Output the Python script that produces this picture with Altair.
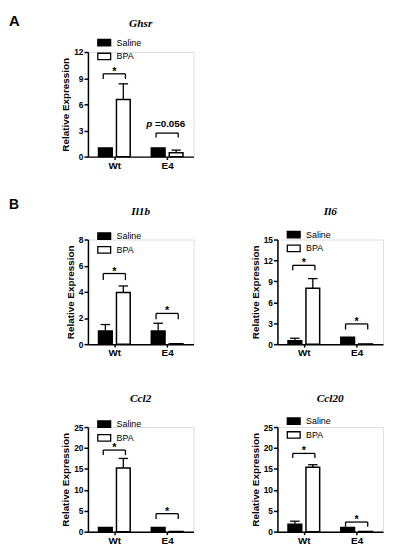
import altair as alt
import pandas as pd

# ---------------- data ----------------
groups = ["Wt", "E4"]
treatments = ["Saline", "BPA"]
genes = ["Ghsr", "Il1b", "Il6", "Ccl2", "Ccl20"]
y_max = [12, 8, 15, 25, 25]
y_step = [3, 2, 3, 5, 5]

# mean and error per gene, in the order [Wt, E4]
saline_mean = [[1.0, 1.0], [1.0, 1.0], [0.5, 1.0], [1.0, 1.0], [1.8, 1.0]]
saline_err = [[0.0, 0.0], [0.5, 0.6], [0.35, 0.0], [0.0, 0.0], [0.7, 0.0]]
bpa_mean = [[6.55, 0.45], [3.95, 0.03], [8.0, 0.03], [15.2, 0.05], [15.4, 0.05]]
bpa_err = [[1.8, 0.3], [0.5, 0.0], [1.4, 0.0], [2.3, 0.0], [0.6, 0.0]]

# significance brackets (top of bracket, bottom of its feet) and labels
bracket_top = [[9.5, 2.7], [5.4, 2.35], [11.3, 2.9], [19.5, 4.3], [18.7, 2.3]]
bracket_foot = [[8.9, 2.2], [4.9, 1.9], [10.6, 2.1], [18.3, 3.0], [17.6, 1.2]]
bracket_text = [["*", "p =0.056"], ["*", "*"], ["*", "*"], ["*", "*"], ["*", "*"]]
panel_letters = {"Ghsr": "A", "Il1b": "B"}

# ---------------- style / layout ----------------
W, H = 107, 106
BAR_OUT, BAR_IN = 0.30, 0.04
CAP = 0.09
BR = 0.21
FONT = "Liberation Sans"
SERIF = "Liberation Serif"
LEGEND_Y = [-17, -11, -12.5, -10.5, -13.5]


def build_panel(i):
    gene = genes[i]
    ymax, ystep = y_max[i], y_step[i]
    means = [saline_mean[i], bpa_mean[i]]
    errs = [saline_err[i], bpa_err[i]]

    bar_rows, rule_rows, star_rows, pval_rows = [], [], [], []
    for gi, grp in enumerate(groups):
        c = gi + 0.5
        for ti, tr in enumerate(treatments):
            sign = -1 if ti == 0 else 1
            xa, xb = c + sign * BAR_IN, c + sign * BAR_OUT
            xm = (xa + xb) / 2
            m, e = means[ti][gi], errs[ti][gi]
            bar_rows.append({"x": min(xa, xb), "x2": max(xa, xb), "y": 0.0, "y2": m,
                             "treatment": tr})
            if e > 0:
                rule_rows.append({"x": xm, "x2": xm, "y": m, "y2": m + e})
                rule_rows.append({"x": xm - CAP, "x2": xm + CAP, "y": m + e, "y2": m + e})
        top, foot = bracket_top[i][gi], bracket_foot[i][gi]
        xl, xr = c - BR, c + BR
        rule_rows += [
            {"x": xl, "x2": xr, "y": top, "y2": top},
            {"x": xl, "x2": xl, "y": foot, "y2": top},
            {"x": xr, "x2": xr, "y": foot, "y2": top},
        ]
        lab = bracket_text[i][gi]
        if lab == "*":
            star_rows.append({"x": c, "y": top})
        else:
            p, rest = lab.split(" ", 1)
            pval_rows.append({"x": c, "y": top, "p": p, "rest": rest})

    xscale = alt.Scale(domain=[0, len(groups)], nice=False, zero=False)
    yscale = alt.Scale(domain=[0, ymax], nice=False)
    xaxis = alt.Axis(values=[k + 0.5 for k in range(len(groups))],
                     labelExpr=f"{groups}[floor(datum.value)]",
                     title=None, grid=False, labelAngle=0,
                     domainColor="black", domainWidth=1.5,
                     tickColor="black", tickWidth=1.5, tickSize=3,
                     labelFont=FONT, labelFontSize=10, labelFontWeight="bold",
                     labelColor="black", labelPadding=1)
    yaxis = alt.Axis(values=list(range(0, ymax + 1, ystep)),
                     title="Relative Expression", grid=False,
                     domainColor="black", domainWidth=1.5,
                     tickColor="black", tickWidth=1.5, tickSize=4,
                     labelFont=FONT, labelFontSize=8.5, labelFontWeight="bold",
                     labelColor="black", labelPadding=1,
                     titleFont=FONT, titleFontSize=10, titleFontWeight="bold",
                     titleColor="black", titlePadding=3)

    def X(f="x"):
        return alt.X(f"{f}:Q", scale=xscale, axis=xaxis)

    def Y(f="y"):
        return alt.Y(f"{f}:Q", scale=yscale, axis=yaxis)

    bars = alt.Chart(pd.DataFrame(bar_rows)).mark_rect(
        stroke="black", strokeWidth=1.5
    ).encode(
        x=X(), x2="x2:Q", y=Y(), y2="y2:Q",
        fill=alt.Fill("treatment:N",
                      scale=alt.Scale(domain=treatments, range=["black", "white"]),
                      legend=alt.Legend(orient="none", legendX=9, legendY=LEGEND_Y[i],
                                        title=None, direction="vertical",
                                        symbolType="M-1,-0.5H1V0.5H-1Z",
                                        symbolSize=169, symbolStrokeColor="black",
                                        symbolStrokeWidth=1.3,
                                        labelFont=FONT, labelFontSize=9,
                                        labelColor="black", labelOffset=5,
                                        rowPadding=-2, padding=0)),
    )
    rules = alt.Chart(pd.DataFrame(rule_rows)).mark_rule(
        color="black", strokeWidth=1.3
    ).encode(x=X(), x2="x2:Q", y=Y(), y2="y2:Q")
    layers = [bars, rules]

    if star_rows:
        layers.append(alt.Chart(pd.DataFrame(star_rows)).mark_text(
            text="*", font=FONT, fontSize=11, fontWeight="bold",
            baseline="alphabetic", dy=1, color="black"
        ).encode(x=X(), y=Y()))
    if pval_rows:
        pdf = pd.DataFrame(pval_rows)
        layers.append(alt.Chart(pdf).mark_text(
            font=FONT, fontSize=10, fontWeight="bold", fontStyle="italic",
            baseline="alphabetic", dx=-18, dy=-6, color="black"
        ).encode(x=X(), y=Y(), text="p:N"))
        layers.append(alt.Chart(pdf).mark_text(
            font=FONT, fontSize=10, fontWeight="bold",
            baseline="alphabetic", dx=3, dy=-6, color="black"
        ).encode(x=X(), y=Y(), text="rest:N"))

    one = pd.DataFrame({"gene": [gene]})
    layers.append(alt.Chart(one).mark_text(
        font=SERIF, fontSize=11.5, fontWeight="bold", fontStyle="italic",
        baseline="middle", color="black"
    ).encode(x=alt.value(W / 2), y=alt.value(-28), text="gene:N"))

    if gene in panel_letters:
        ldf = pd.DataFrame({"letter": [panel_letters[gene]]})
        layers.append(alt.Chart(ldf).mark_text(
            font=FONT, fontSize=15 if gene == "Ghsr" else 14, fontWeight="bold",
            align="left", baseline="middle", color="black"
        ).encode(x=alt.value(-80), y=alt.value(-31 if gene == "Ghsr" else -35),
                 text="letter:N"))

    return alt.layer(*layers).properties(width=W, height=H)


blank = alt.Chart(pd.DataFrame({"v": [0]})).mark_text(text="").encode(
    x=alt.value(0), y=alt.value(0)
).properties(width=W, height=H, view=alt.ViewBackground(strokeWidth=0, stroke="transparent"))

panels = [build_panel(i) for i in range(len(genes))]

chart = alt.concat(
    panels[0], blank, panels[1], panels[2], panels[3], panels[4],
    columns=2, spacing={"row": 84, "column": 85}, bounds="flush",
).resolve_scale(
    fill="independent"
).resolve_legend(
    fill="independent"
).properties(
    padding={"left": 0, "top": 2, "right": 2, "bottom": 2}
).configure_view(
    strokeWidth=0, stroke="transparent"
).configure(
    background="white"
)

chart.save("out.html", embed_options={"renderer": "svg", "actions": False})
